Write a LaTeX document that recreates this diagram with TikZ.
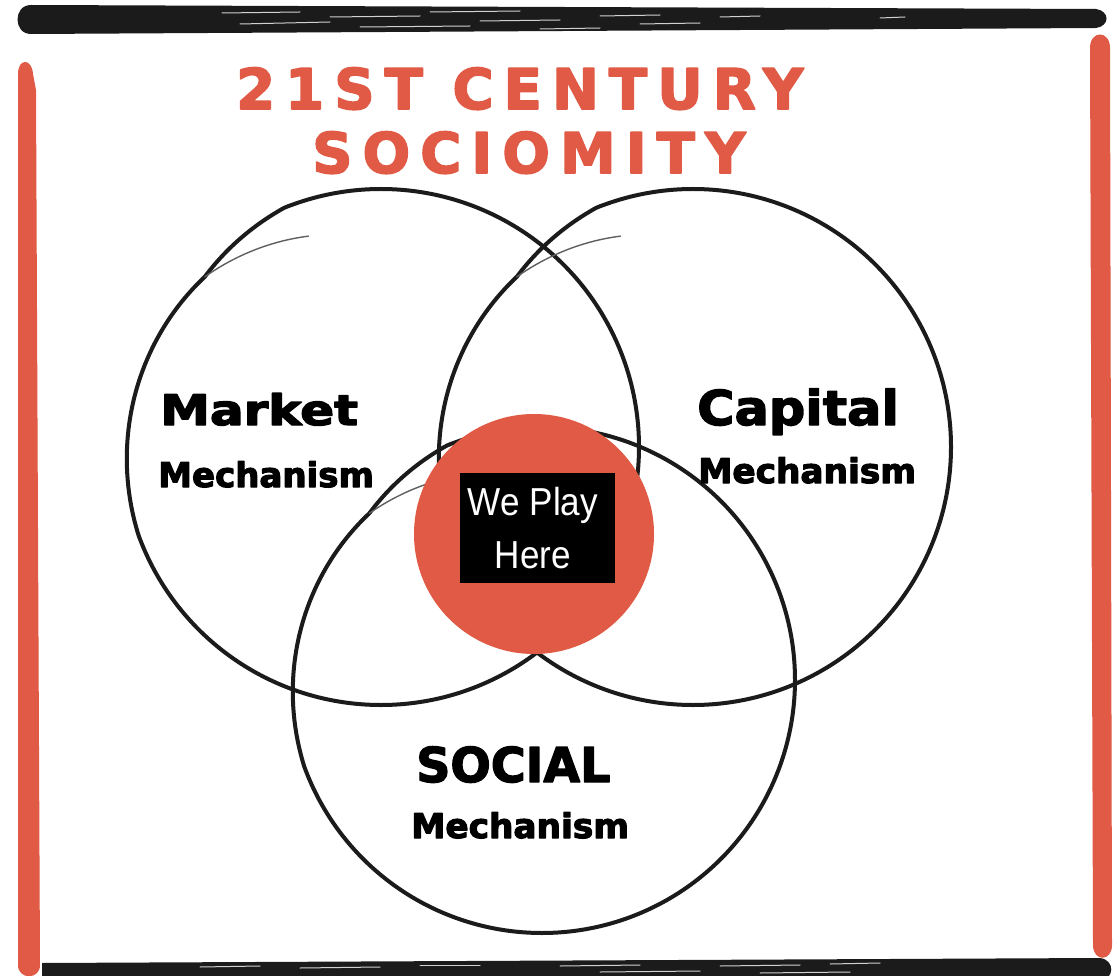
\documentclass[tikz,border=0pt]{standalone}
\usepackage{fontspec}
\usepackage{graphicx}
\setmainfont{DejaVu Sans}
\newfontfamily\titlefont[LetterSpace=18]{DejaVu Sans}
\newfontfamily\boxfont{Liberation Sans}
\definecolor{brick}{HTML}{E05A45}
\definecolor{ink}{HTML}{1B1B1B}
\newcommand{\heavy}[2]{\special{pdf:literal direct q 2 Tr #1 w 1 j}#2\special{pdf:literal direct Q}}
\newcommand{\handcircle}[3]{%
  \draw[ink, line width=4pt, line join=round, line cap=round]
    plot[smooth, domain=136:-224, samples=181]
    ({#1+(#3-13*max(0,((\x)-112)/24)-13*max(0,(-160-(\x))/64))*cos(\x)},
     {#2-(#3-13*max(0,((\x)-112)/24)-13*max(0,(-160-(\x))/64))*sin(\x)});
  \draw[ink!70, line width=1.4pt, line cap=round]
    plot[smooth, domain=-224:-251, samples=15]
    ({#1+(#3-13-22*(-224-(\x))/27)*cos(\x)},
     {#2-(#3-13-22*(-224-(\x))/27)*sin(\x)});
}
\begin{document}
\begin{tikzpicture}[x=1pt,y=-1pt,
  lbl/.style={anchor=base west, inner sep=0pt, text=black, font=\bfseries},
  ttl/.style={anchor=base west, inner sep=0pt, text=brick, font=\titlefont\bfseries\fontsize{56}{56}\selectfont},
  streak/.style={white, line width=1pt, line cap=round, opacity=0.8}]
\clip (0,0) rectangle (1119,976);
\fill[white] (0,0) rectangle (1119,976);
% top bar
\fill[ink] (31,5) -- (1096,9) .. controls (1110,11) and (1110,26) .. (1096,28) -- (31,34) .. controls (13,34) and (13,5) .. (31,5) -- cycle;
\draw[streak] (222,13) -- (300,12);
\draw[streak] (240,24) -- (330,22);
\draw[streak] (330,17) -- (420,16);
\draw[streak] (360,27) -- (470,26);
\draw[streak] (430,12) -- (520,11);
\draw[streak] (480,21) -- (560,20);
\draw[streak] (540,29) -- (600,28);
\draw[streak] (600,16) -- (660,15);
\draw[streak] (640,24) -- (700,23);
\draw[streak] (720,17) -- (760,16);
\draw[streak] (880,18) -- (905,17);
% bottom bar
\fill[ink] (42,963) -- (1100,958) .. controls (1115,960) and (1115,978) .. (1100,982) -- (42,990) -- cycle;
\draw[streak] (200,967) -- (260,966);
\draw[streak] (300,968) -- (380,967);
\draw[streak] (420,965) -- (480,965);
\draw[streak] (560,966) -- (640,965);
\draw[streak] (600,972) -- (700,971);
\draw[streak] (720,966) -- (800,965);
\draw[streak] (760,973) -- (850,972);
\draw[streak] (830,964) -- (880,963);
% left and right red bars
\fill[brick] (18,74) .. controls (18,58) and (32,58) .. (33,74) -- (36,90) -- (40,965) .. controls (40,980) and (18,980) .. (18,965) -- cycle;
\fill[brick] (1090,48) .. controls (1090,30) and (1110,30) .. (1110,48) -- (1112,945) .. controls (1112,962) and (1093,962) .. (1093,945) -- cycle;
% title
\node[ttl] (title1) at (236,109) {\heavy{1.6}{21ST CENTURY}};
\node[ttl] (title2) at (312,173) {\heavy{1.6}{SOCIOMITY}};
% circles
\handcircle{381}{447}{258}
\handcircle{693}{447}{258}
\handcircle{542}{680}{253}
% core
\node[circle, fill=brick, minimum size=240pt, inner sep=0pt] (core) at (534,534) {};
\node[fill=black, minimum width=155pt, minimum height=110pt, inner sep=0pt] (tag) at (537.5,528) {};
\node[text=white, inner sep=0pt, font=\boxfont\fontsize{39}{53}\selectfont] (tagtext) at (533,531)
  {\scalebox{0.9}[1]{\begin{tabular}{@{}c@{}}We Play\\Here\end{tabular}}};
% labels
\node[lbl] (market) at (160,425) {\scalebox{1.19}[1]{\fontsize{42}{42}\selectfont\heavy{1.3}{Market}}};
\node[lbl] (marketm) at (158,487) {\scalebox{1.0}[1]{\fontsize{34}{34}\selectfont\heavy{1.1}{Mechanism}}};
\node[lbl] (capital) at (697,425) {\scalebox{1.06}[1]{\fontsize{48}{48}\selectfont\heavy{1.3}{Capital}}};
\node[lbl] (capitalm) at (698,483) {\scalebox{1.01}[1]{\fontsize{34}{34}\selectfont\heavy{1.1}{Mechanism}}};
\node[lbl] (social) at (416,782) {\scalebox{0.99}[1]{\fontsize{48}{48}\selectfont\heavy{1.3}{SOCIAL}}};
\node[lbl] (socialm) at (411,838) {\scalebox{1.01}[1]{\fontsize{34}{34}\selectfont\heavy{1.1}{Mechanism}}};
\end{tikzpicture}
\end{document}
